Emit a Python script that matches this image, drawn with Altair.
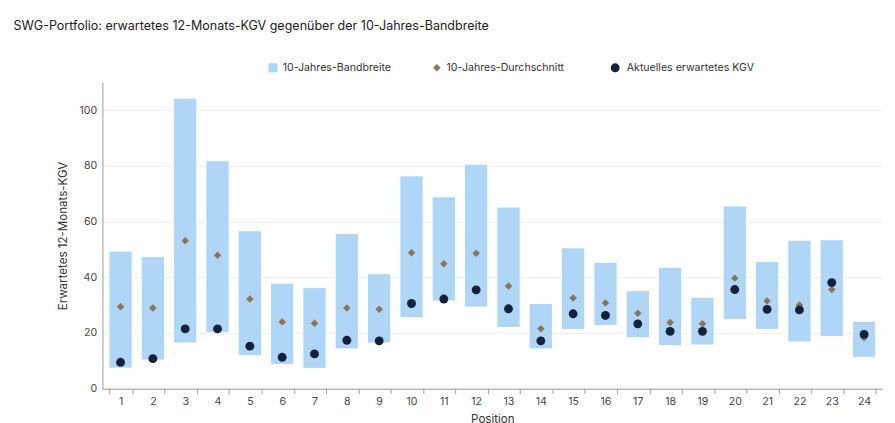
import pandas as pd
import altair as alt

positions = list(range(1, 25))
band_low = [7.4, 10.3, 16.4, 20.1, 11.9, 8.7, 7.3, 14.3, 16.4, 25.5, 31.5, 29.3,
            22.0, 14.3, 21.3, 22.7, 18.3, 15.5, 15.7, 24.8, 21.3, 16.8, 18.7, 11.3]
band_high = [49.4, 47.4, 104.3, 81.8, 56.7, 37.9, 36.3, 55.7, 41.3, 76.4, 68.9, 80.6,
             65.2, 30.6, 50.6, 45.4, 35.2, 43.6, 32.8, 65.6, 45.7, 53.3, 53.5, 24.2]
avg_10y = [29.4, 29.0, 53.1, 47.9, 32.2, 24.0, 23.5, 29.0, 28.5, 48.8, 44.9, 48.6,
           36.9, 21.5, 32.6, 30.8, 27.1, 23.8, 23.3, 39.7, 31.5, 30.1, 35.6, 18.3]
current = [9.5, 10.8, 21.5, 21.5, 15.3, 11.3, 12.5, 17.4, 17.2, 30.6, 32.2, 35.5,
           28.7, 17.2, 26.9, 26.3, 23.3, 20.6, 20.6, 35.6, 28.5, 28.3, 38.1, 19.5]

df = pd.DataFrame({
    "Position": positions,
    "low": band_low,
    "high": band_high,
    "avg": avg_10y,
    "kgv": current,
})

FONT = "Inter"
BAR = "#afd6f7"
DIAMOND = "#8c7456"
DOT = "#15203a"

x = alt.X("Position:O", title="Position",
          scale=alt.Scale(paddingInner=0.28, paddingOuter=0.2),
          axis=alt.Axis(labelAngle=0, tickBand="extent", domainColor="#999",
                        tickColor="#999", labelColor="#444", titleColor="#333",
                        labelFontSize=11, titleFontSize=12, titlePadding=8,
                        titleFontWeight="normal"))

base = alt.Chart(df)

bars = base.mark_bar(color=BAR, stroke="white", strokeWidth=1).encode(
    x=x,
    y=alt.Y("low:Q", title="Erwartetes 12-Monats-KGV",
            scale=alt.Scale(domain=[0, 110], nice=False),
            axis=alt.Axis(values=[0, 20, 40, 60, 80, 100], gridColor="#ececec",
                          domainColor="#999", ticks=False, labelColor="#444",
                          titleColor="#333", labelFontSize=11, titleFontSize=12,
                          labelPadding=6, titleFontWeight="normal", titlePadding=10)),
    y2="high:Q",
)

diamonds = base.mark_point(shape="diamond", filled=True, color=DIAMOND, size=60,
                           opacity=1).encode(x=x, y="avg:Q")
dots = base.mark_circle(color=DOT, size=85, opacity=1).encode(x=x, y="kgv:Q")

legend_names = ["10-Jahres-Bandbreite", "10-Jahres-Durchschnitt", "Aktuelles erwartetes KGV"]
one = pd.DataFrame({"k": [0]})
LY = -15


def leg_text(label, px):
    return alt.Chart(one).mark_text(align="left", baseline="middle", fontSize=11,
                                    font=FONT, color="#333").encode(
        x=alt.value(px), y=alt.value(LY), text=alt.value(label))


leg_bar = alt.Chart(one).mark_square(color=BAR, size=90, opacity=1).encode(
    x=alt.value(177), y=alt.value(LY))
leg_dia = alt.Chart(one).mark_point(shape="diamond", filled=True,
                                    color=DIAMOND, size=60, opacity=1).encode(
    x=alt.value(347), y=alt.value(LY))
leg_dot = alt.Chart(one).mark_circle(color=DOT, size=85, opacity=1).encode(
    x=alt.value(532), y=alt.value(LY))

chart = alt.layer(
    bars, diamonds, dots, leg_bar, leg_dia, leg_dot,
    leg_text(legend_names[0], 187), leg_text(legend_names[1], 357),
    leg_text(legend_names[2], 544),
).properties(
    width=809,
    height=318,
    title=alt.TitleParams("SWG-Portfolio: erwartetes 12-Monats-KGV gegenüber der 10-Jahres-Bandbreite",
                          anchor="start", fontSize=13, fontWeight="normal", font=FONT,
                          color="#222", offset=30, dx=-45),
).configure_view(stroke=None).configure_axis(labelFont=FONT, titleFont=FONT)

chart.save("out.html", embed_options={"renderer": "svg", "actions": False})
